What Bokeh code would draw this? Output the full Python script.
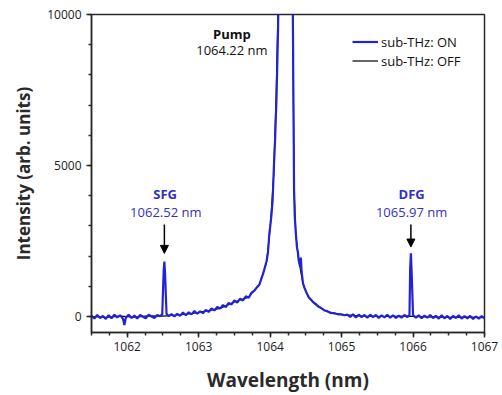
from bokeh.plotting import figure
from bokeh.models import (Range1d, SingleIntervalTicker, Legend, LegendItem, Label,
                          Arrow, NormalHead)
from bokeh.embed import file_html
from bokeh.resources import INLINE

# ---- data ----
wl_on = [1061.50, 1061.54, 1061.58, 1061.62, 1061.66, 1061.70, 1061.74, 1061.78, 1061.82, 1061.86,
         1061.90, 1061.94, 1061.96, 1061.98, 1062.02, 1062.06, 1062.10, 1062.14, 1062.18, 1062.22,
         1062.26, 1062.30, 1062.34, 1062.38, 1062.42, 1062.46, 1062.49, 1062.51, 1062.52, 1062.53,
         1062.55, 1062.58, 1062.62, 1062.66, 1062.70, 1062.74, 1062.78, 1062.82, 1062.86, 1062.90,
         1062.94, 1062.98, 1063.02, 1063.06, 1063.10, 1063.14, 1063.18, 1063.22, 1063.26, 1063.30,
         1063.34, 1063.38, 1063.42, 1063.46, 1063.50, 1063.54, 1063.58, 1063.62, 1063.66, 1063.70,
         1063.74, 1063.78, 1063.82, 1063.85, 1063.88, 1063.90, 1063.92, 1063.95, 1063.97, 1063.99,
         1064.00, 1064.02, 1064.035, 1064.05, 1064.07, 1064.09, 1064.11, 1064.13, 1064.16, 1064.20,
         1064.24, 1064.28, 1064.30, 1064.315, 1064.325, 1064.335, 1064.345, 1064.36, 1064.375, 1064.39,
         1064.40, 1064.42, 1064.43, 1064.44, 1064.46, 1064.48, 1064.51, 1064.54, 1064.57, 1064.60,
         1064.64, 1064.68, 1064.72, 1064.76, 1064.80, 1064.84, 1064.88, 1064.92, 1064.96, 1065.00,
         1065.04, 1065.08, 1065.12, 1065.16, 1065.20, 1065.24, 1065.28, 1065.32, 1065.36, 1065.40,
         1065.44, 1065.48, 1065.52, 1065.56, 1065.60, 1065.64, 1065.68, 1065.72, 1065.76, 1065.80,
         1065.84, 1065.88, 1065.92, 1065.95, 1065.96, 1065.97, 1065.98, 1066.00, 1066.04, 1066.08,
         1066.12, 1066.16, 1066.20, 1066.24, 1066.28, 1066.32, 1066.36, 1066.40, 1066.44, 1066.48,
         1066.52, 1066.56, 1066.60, 1066.64, 1066.68, 1066.72, 1066.76, 1066.80, 1066.84, 1066.88,
         1066.92, 1066.96, 1067.00]
int_on = [30, -70, 50, -50, 20, -80, 40, -60, 60, -30,
          40, -70, -280, -40, 60, -50, 30, -70, 50, -10,
          -60, 60, 0, -50, 50, 10, 70, 1500, 1820, 1400,
          90, 10, 80, 0, 90, 20, 130, 40, 140, 70,
          180, 90, 170, 110, 220, 150, 270, 200, 320, 260,
          380, 310, 450, 400, 530, 460, 590, 530, 670, 620,
          790, 860, 980, 1060, 1270, 1400, 1570, 1830, 2120, 2780,
          2950, 3400, 3850, 4800, 5900, 7300, 9400, 12500, 18000, 30000,
          34000, 24000, 16000, 11000, 7500, 4200, 3300, 2750, 2300, 2100,
          1850, 1650, 1950, 1500, 1100, 950, 780, 640, 560, 480,
          410, 320, 270, 200, 180, 120, 110, 90, 70, 70,
          40, 60, -10, 70, -30, 60, -20, 50, -40, 60,
          -20, 50, -50, 40, -30, 60, -40, 40, -50, 30,
          -40, 50, -20, 50, 1600, 2090, 1500, 40, -40, 40,
          -60, 30, -40, 50, -50, 20, -70, 40, -60, 20,
          -80, 20, -50, 40, -70, 10, -60, 20, -80, 0,
          -70, 10, -60]

wl_off = [1061.5, 1061.7, 1061.9, 1062.1, 1062.3, 1062.5, 1062.7, 1062.9, 1063.1, 1063.3,
          1063.5, 1063.7, 1063.85, 1063.95, 1064.0, 1064.05, 1064.085, 1064.105, 1064.13, 1064.16,
          1064.2, 1064.24, 1064.28, 1064.30, 1064.315, 1064.325, 1064.335, 1064.36, 1064.39, 1064.42,
          1064.46, 1064.54, 1064.64, 1064.8, 1065.0, 1065.3, 1065.6, 1065.9, 1066.2, 1066.5,
          1066.8, 1067.0]
int_off = [0, -30, 10, -20, 20, 10, 50, 90, 180, 270,
           480, 640, 1060, 1800, 2900, 4700, 7400, 9600, 12400, 18000,
           30000, 34000, 24000, 16000, 11000, 7400, 4200, 2700, 2050, 1600,
           1080, 630, 390, 160, 60, 10, 0, 10, -10, -30,
           -20, -40]

legend_labels = ["sub-THz: ON", "sub-THz: OFF"]
x_ticks_interval = 1
y_ticks_interval = 5000

BLUE = "#2222d8"
TXT_BLUE = "#3030c4"
AX = "#2a2a2a"
FONT = "Open Sans"

p = figure(width=502, height=395, output_backend="svg", toolbar_location=None,
           x_range=Range1d(1061.5, 1067.0), y_range=Range1d(-530, 10000),
           min_border_left=91, min_border_right=18, min_border_top=14, min_border_bottom=63)
p.grid.visible = False
p.background_fill_color = "white"
p.border_fill_color = "white"
p.outline_line_color = AX
p.outline_line_width = 1.5

r_off = p.line(wl_off, int_off, line_color="black", line_width=1.2)
r_on = p.line(wl_on, int_on, line_color=BLUE, line_width=2.2)

for ax in (p.xaxis[0], p.yaxis[0]):
    ax.axis_line_color = AX
    ax.axis_line_width = 1.5
    ax.major_tick_line_color = AX
    ax.minor_tick_line_color = AX
    ax.major_tick_line_width = 1.5
    ax.minor_tick_line_width = 1.5
    ax.major_tick_out = 5
    ax.major_tick_in = 0
    ax.minor_tick_out = 3
    ax.minor_tick_in = 0
    ax.major_label_text_font = FONT
    ax.major_label_text_font_size = "12px"
    ax.major_label_text_color = "#222222"
    ax.axis_label_text_font = FONT
    ax.axis_label_text_font_style = "bold"
    ax.axis_label_text_color = "#2a2a2a"

p.xaxis[0].ticker = SingleIntervalTicker(interval=x_ticks_interval, num_minor_ticks=4)
p.yaxis[0].ticker = SingleIntervalTicker(interval=y_ticks_interval, num_minor_ticks=5)
p.xaxis.axis_label = "Wavelength (nm)"
p.yaxis.axis_label = "Intensity (arb. units)"
p.xaxis.axis_label_text_font_size = "19px"
p.yaxis.axis_label_text_font_size = "17px"
p.xaxis.axis_label_standoff = 13
p.yaxis.axis_label_standoff = 9
p.xaxis.major_label_standoff = 4
p.yaxis.major_label_standoff = 5

legend = Legend(items=[LegendItem(label=legend_labels[0], renderers=[r_on]),
                       LegendItem(label=legend_labels[1], renderers=[r_off])],
                location=(261, 262), orientation="vertical")
legend.border_line_color = None
legend.background_fill_alpha = 0
legend.padding = 0
legend.margin = 0
legend.spacing = 0
legend.glyph_width = 26
legend.glyph_height = 19
legend.label_standoff = 3
legend.label_text_font = FONT
legend.label_text_font_size = "13px"
legend.label_text_color = "#111111"
p.add_layout(legend)

def lab(x, y, t, color, bold=False):
    p.add_layout(Label(x=x, y=y, text=t, text_align="center", text_baseline="middle",
                       text_font=FONT, text_font_size="13px", text_color=color,
                       text_font_style="bold" if bold else "normal"))

lab(1063.465, 9360, "Pump", "#111111", True)
lab(1063.465, 8810, "1064.22 nm", "#111111")
lab(1062.53, 4070, "SFG", TXT_BLUE, True)
lab(1062.54, 3450, "1062.52 nm", TXT_BLUE)
lab(1065.98, 4070, "DFG", TXT_BLUE, True)
lab(1065.98, 3450, "1065.97 nm", TXT_BLUE)

for xa, y0, y1 in [(1062.52, 3050, 2090), (1065.97, 3050, 2300)]:
    p.add_layout(Arrow(x_start=xa, y_start=y0, x_end=xa, y_end=y1, line_color="black", line_width=1.5,
                       end=NormalHead(size=8, fill_color="black", line_color="black")))

open("out.html", "w").write(file_html(p, INLINE))
